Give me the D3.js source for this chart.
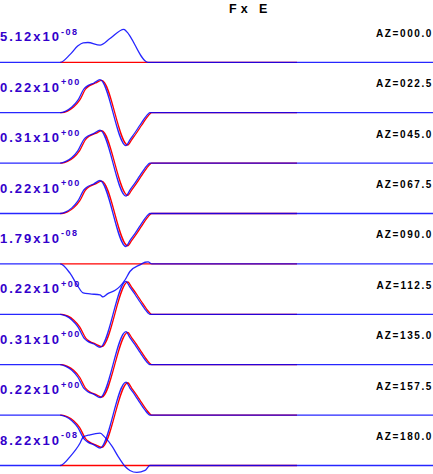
<!DOCTYPE html>
<html><head><meta charset="utf-8">
<script src="https://cdn.jsdelivr.net/npm/d3@7"></script>
<style>
html,body{margin:0;padding:0;background:#fff;}
svg{display:block;}
</style></head>
<body>
<svg id="c" width="433" height="474"></svg>
<script>
// ---------- data ----------
const title = "Fx E";
const azimuths = ["000.0","022.5","045.0","067.5","090.0","112.5","135.0","157.5","180.0"];
const mantissas = ["5.12","0.22","0.31","0.22","1.79","0.22","0.31","0.22","8.22"];
const exponents = ["-08","+00","+00","+00","-08","+00","+00","+00","-08"];

// time (s) sample points
const tMain   = [0, 13.9, 15.2, 16.6, 18.0, 19.4, 20.3, 21.7, 23.1, 29.1, 30.0, 31.2, 32.3, 33.5, 34.2, 34.6, 100];
const tMainR  = [13.9, 14.3, 15.6, 17.0, 18.4, 19.8, 20.7, 22.1, 23.5, 29.5, 30.4, 31.6, 32.7, 33.9, 34.6, 35.0, 68.6];
const tFlatR  = [13.9, 68.6];
const t000    = [0, 13.9, 16.2, 18.0, 19.2, 20.3, 23.1, 25.4, 28.6, 29.1, 34.2, 100];
const t090    = [0, 13.9, 16.2, 18.0, 19.2, 20.8, 23.1, 23.8, 24.9, 26.6, 27.7, 28.9, 30.0, 32.3, 33.5, 34.2, 35.1, 100];
const t180    = [0, 13.9, 16.2, 18.5, 19.2, 20.8, 23.1, 24.2, 25.9, 27.3, 28.9, 30.0, 31.6, 33.5, 34.6, 100];

// normalized amplitudes (blue = observed, red = synthetic)
const blue000 = [0, 0, 0.24, 0.5, 0.59, 0.6, 0.52, 0.72, 1.0, 0.95, 0, 0];
const red000  = [0, 0];
const blue022 = [0, 0, 0.05, 0.17, 0.38, 0.72, 0.82, 0.9, 1.0, -1.0, -0.82, -0.6, -0.38, -0.15, -0.04, 0, 0];
const red022  = [0, 0, 0.05, 0.17, 0.38, 0.72, 0.82, 0.9, 0.98, -0.98, -0.82, -0.6, -0.38, -0.15, -0.04, 0, 0];
const blue045 = [0, 0, 0.05, 0.17, 0.38, 0.72, 0.82, 0.9, 1.0, -1.0, -0.82, -0.6, -0.38, -0.15, -0.04, 0, 0];
const red045  = [0, 0, 0.05, 0.17, 0.38, 0.72, 0.82, 0.9, 0.98, -0.98, -0.82, -0.6, -0.38, -0.15, -0.04, 0, 0];
const blue067 = [0, 0, 0.05, 0.17, 0.38, 0.72, 0.82, 0.9, 1.0, -1.0, -0.82, -0.6, -0.38, -0.15, -0.04, 0, 0];
const red067  = [0, 0, 0.05, 0.17, 0.38, 0.72, 0.82, 0.9, 0.98, -0.98, -0.82, -0.6, -0.38, -0.15, -0.04, 0, 0];
const blue090 = [0, 0, -0.29, -0.68, -0.88, -0.91, -0.94, -1.0, -0.9, -0.8, -0.68, -0.48, -0.23, -0.03, 0.05, 0.06, 0, 0];
const red090  = [0, 0];
const blue112 = [0, 0, -0.05, -0.17, -0.38, -0.72, -0.82, -0.9, -1.0, 1.0, 0.82, 0.6, 0.38, 0.15, 0.04, 0, 0];
const red112  = [0, 0, -0.05, -0.17, -0.38, -0.72, -0.82, -0.9, -0.98, 0.98, 0.82, 0.6, 0.38, 0.15, 0.04, 0, 0];
const blue135 = [0, 0, -0.05, -0.17, -0.38, -0.72, -0.82, -0.9, -1.0, 1.0, 0.82, 0.6, 0.38, 0.15, 0.04, 0, 0];
const red135  = [0, 0, -0.05, -0.17, -0.38, -0.72, -0.82, -0.9, -0.98, 0.98, 0.82, 0.6, 0.38, 0.15, 0.04, 0, 0];
const blue157 = [0, 0, -0.05, -0.17, -0.38, -0.72, -0.82, -0.9, -1.0, 1.0, 0.82, 0.6, 0.38, 0.15, 0.04, 0, 0];
const red157  = [0, 0, -0.05, -0.17, -0.38, -0.72, -0.82, -0.9, -0.98, 0.98, 0.82, 0.6, 0.38, 0.15, 0.04, 0, 0];
const blue180 = [0, 0, 0.27, 0.68, 0.86, 0.93, 0.98, 0.86, 0.58, 0.27, -0.03, -0.15, -0.21, -0.15, 0, 0];
const red180  = [0, 0];

const rows = [
  {b: [t000, blue000], r: [tFlatR, red000]},
  {b: [tMain, blue022], r: [tMainR, red022]},
  {b: [tMain, blue045], r: [tMainR, red045]},
  {b: [tMain, blue067], r: [tMainR, red067]},
  {b: [t090, blue090], r: [tFlatR, red090]},
  {b: [tMain, blue112], r: [tMainR, red112]},
  {b: [tMain, blue135], r: [tMainR, red135]},
  {b: [tMain, blue157], r: [tMainR, red157]},
  {b: [t180, blue180], r: [tFlatR, red180]}
];

// ---------- drawing ----------
const W = 433, H = 474;
const svg = d3.select("#c");
const x = d3.scaleLinear().domain([0, 100]).range([0, W]);
const rowY = d3.scalePoint().domain(azimuths).range([62.3, 465.5]);
const AMP = 33;

svg.append("text")
  .attr("x", 229).attr("y", 12.5)
  .attr("font-family", "Liberation Sans, Arial, sans-serif")
  .attr("font-weight", "bold").attr("font-size", 12.5)
  .attr("letter-spacing", 4)
  .attr("fill", "#000")
  .attr("xml:space", "preserve")
  .style("white-space", "pre")
  .text(title);

azimuths.forEach((az, i) => {
  const base = rowY(az);
  const y = d3.scaleLinear().domain([-1, 1]).range([base + AMP, base - AMP]);
  const line = d3.line().x(d => x(d[0])).y(d => y(d[1])).curve(d3.curveMonotoneX);
  const g = svg.append("g");
  const rd = d3.zip(rows[i].r[0], rows[i].r[1]);
  const bd = d3.zip(rows[i].b[0], rows[i].b[1]);
  g.append("path").attr("d", line(rd)).attr("fill", "none")
    .attr("stroke", "#ff0000").attr("stroke-width", 1.3);
  g.append("path").attr("d", line(bd)).attr("fill", "none")
    .attr("stroke", "#0000ff").attr("stroke-width", 1.3).attr("stroke-opacity", 0.85);

  const lab = svg.append("text")
    .attr("x", 0).attr("y", base - 21)
    .attr("font-family", "Liberation Sans, Arial, sans-serif")
    .attr("font-weight", "bold")
    .attr("fill", "#3300cc");
  lab.append("tspan").attr("font-size", 13).attr("letter-spacing", 2)
    .text(mantissas[i] + "x10");
  lab.append("tspan").attr("font-size", 9).attr("letter-spacing", 1.5)
    .attr("dy", -6.5).attr("dx", 0).text(exponents[i]);

  svg.append("text")
    .attr("x", 433).attr("y", base - 25.5)
    .attr("text-anchor", "end")
    .attr("font-family", "Liberation Sans, Arial, sans-serif")
    .attr("font-weight", "bold").attr("font-size", 10)
    .attr("letter-spacing", 1.6)
    .attr("fill", "#000")
    .text("AZ=" + az);
});
</script>
</body></html>
